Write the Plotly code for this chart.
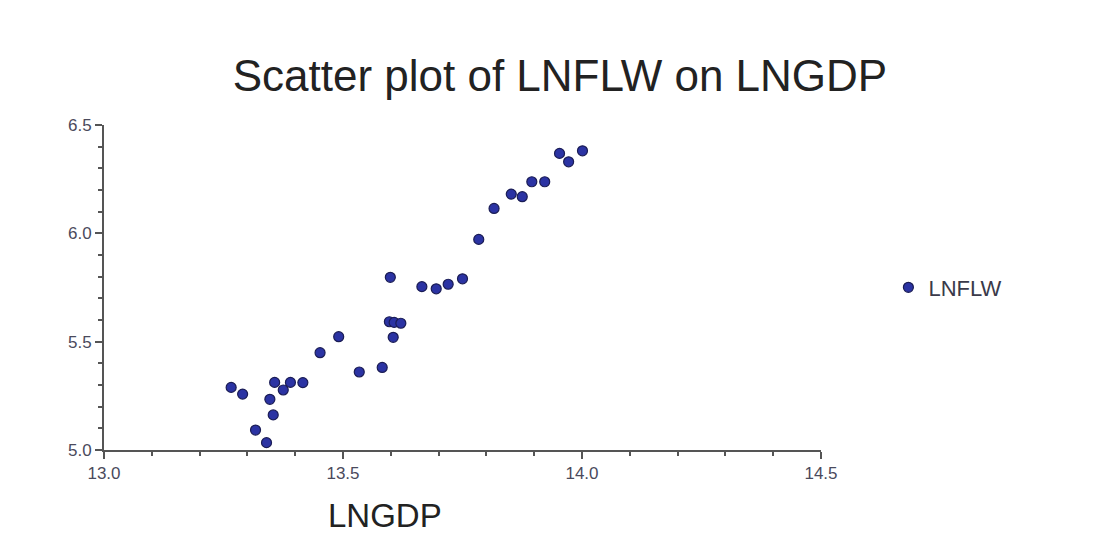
import plotly.graph_objects as go

# Data (LNGDP on x, LNFLW on y)
lngdp = [13.266, 13.290, 13.317, 13.340, 13.347, 13.354, 13.357, 13.375,
         13.390, 13.416, 13.452, 13.491, 13.534, 13.582, 13.599, 13.597,
         13.607, 13.621, 13.605, 13.665, 13.695, 13.720, 13.750, 13.784,
         13.816, 13.852, 13.875, 13.895, 13.922, 13.953, 13.972, 14.001]
lnflw = [5.289, 5.258, 5.092, 5.034, 5.234, 5.162, 5.312, 5.277,
         5.312, 5.311, 5.449, 5.523, 5.360, 5.381, 5.797, 5.592,
         5.589, 5.585, 5.520, 5.754, 5.744, 5.765, 5.790, 5.972,
         6.115, 6.181, 6.169, 6.238, 6.238, 6.369, 6.330, 6.381]

x_ticks = [13.0, 13.5, 14.0, 14.5]
x_tick_text = ["13.0", "13.5", "14.0", "14.5"]
y_ticks = [5.0, 5.5, 6.0, 6.5]
y_tick_text = ["5.0", "5.5", "6.0", "6.5"]

FONT = "Liberation Sans, Arial, sans-serif"
AXIS_COLOR = "#555555"
TICK_FONT_COLOR = "#4a4a5c"

fig = go.Figure()
fig.add_trace(go.Scatter(
    x=lngdp, y=lnflw, mode="markers", name="LNFLW",
    marker=dict(size=10, color="#2b33a3", line=dict(color="#1b1d55", width=1.2)),
))

fig.update_layout(
    width=1111, height=533,
    paper_bgcolor="white", plot_bgcolor="white",
    margin=dict(l=104, r=290, t=125, b=83),
    title=dict(text="Scatter plot of LNFLW on LNGDP", x=0.504, xanchor="center",
               y=1 - 76 / 533, yanchor="middle",
               font=dict(family=FONT, size=44, color="#222222")),
    showlegend=True,
    legend=dict(x=1.094, y=0.5, xanchor="left", yanchor="middle",
                font=dict(family=FONT, size=22, color="#3a3a4a"),
                itemwidth=30,
                bgcolor="rgba(0,0,0,0)"),
    xaxis=dict(range=[13.0, 14.5], tickvals=x_ticks, ticktext=x_tick_text,
               showgrid=False, zeroline=False, showline=True,
               linecolor=AXIS_COLOR, linewidth=2,
               ticks="outside", ticklen=7, tickwidth=2, tickcolor=AXIS_COLOR,
               minor=dict(dtick=0.1, tick0=13.0, ticks="outside", ticklen=4,
                          tickwidth=2, tickcolor=AXIS_COLOR, showgrid=False),
               tickfont=dict(family=FONT, size=17, color=TICK_FONT_COLOR)),
    yaxis=dict(range=[5.0, 6.5], tickvals=y_ticks, ticktext=y_tick_text,
               showgrid=False, zeroline=False, showline=True,
               linecolor=AXIS_COLOR, linewidth=2,
               ticks="outside", ticklen=7, tickwidth=2, tickcolor=AXIS_COLOR,
               minor=dict(dtick=0.1, tick0=5.0, ticks="outside", ticklen=4,
                          tickwidth=2, tickcolor=AXIS_COLOR, showgrid=False),
               tickfont=dict(family=FONT, size=17, color=TICK_FONT_COLOR)),
    annotations=[dict(text="LNGDP", xref="paper", yref="paper",
                      x=(385 - 104) / 717, y=(450 - 515) / 325,
                      xanchor="center", yanchor="middle", showarrow=False,
                      font=dict(family=FONT, size=33, color="#222222"))],
)

fig.write_html("out.html",
               config={"displayModeBar": False},
               post_script="document.body.style.margin='0';"
                           "document.body.style.overflow='hidden';")
